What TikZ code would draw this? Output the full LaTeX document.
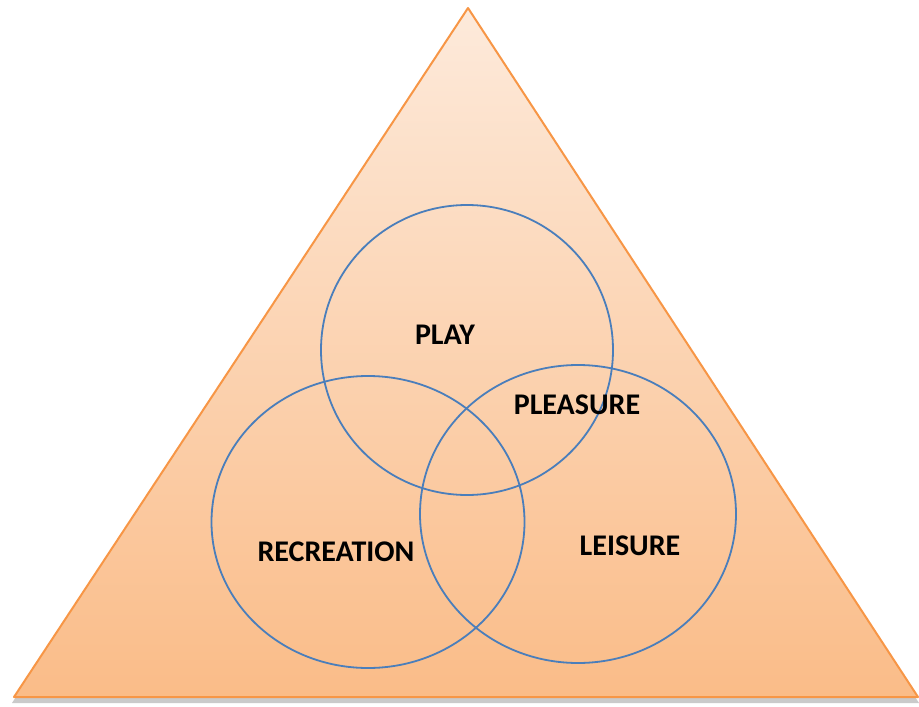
\documentclass[tikz,border=0pt]{standalone}
\usepackage{fontspec}
\setmainfont{Carlito}
\usepackage{xcolor}
\usepackage{tikz}
\usetikzlibrary{shapes.geometric}
\definecolor{peachtop}{RGB}{253,234,219}
\definecolor{peachbottom}{RGB}{250,188,136}
\definecolor{orangeline}{RGB}{247,150,70}
\definecolor{ringblue}{RGB}{74,126,187}

\begin{document}
\begin{tikzpicture}[x=1pt, y=-1pt]
\useasboundingbox (0,0) rectangle (919,707);
% soft shadow under the pyramid
\fill[black!35, opacity=0.6] (466,12) -- (12,703) -- (919,703) -- cycle;
% pyramid
\shade[top color=peachtop, bottom color=peachbottom, draw=orangeline, line width=2pt, line join=round]
    (468,8) coordinate (apex) -- (14,697) coordinate (baseleft) -- (918,697) coordinate (baseright) -- cycle;
% the three rings
\tikzset{ring/.style={draw=ringblue, line width=1.8pt, ellipse, inner sep=0pt}}
\node[ring, minimum width=292pt, minimum height=290pt] (play) at (467,350) {};
\node[ring, minimum width=313pt, minimum height=292pt] (recreation) at (368,522) {};
\node[ring, minimum width=316pt, minimum height=298pt] (leisure) at (578,514) {};
% labels
\tikzset{lbl/.style={font=\fontsize{30}{34}\selectfont\bfseries, text=black, inner sep=0pt}}
\node[lbl] (playtext) at (445,335) {PLAY};
\node[lbl] (pleasuretext) at (577,405) {PLEASURE};
\node[lbl] (recreationtext) at (336,552) {RECREATION};
\node[lbl] (leisuretext) at (630,546) {LEISURE};
\end{tikzpicture}
\end{document}
